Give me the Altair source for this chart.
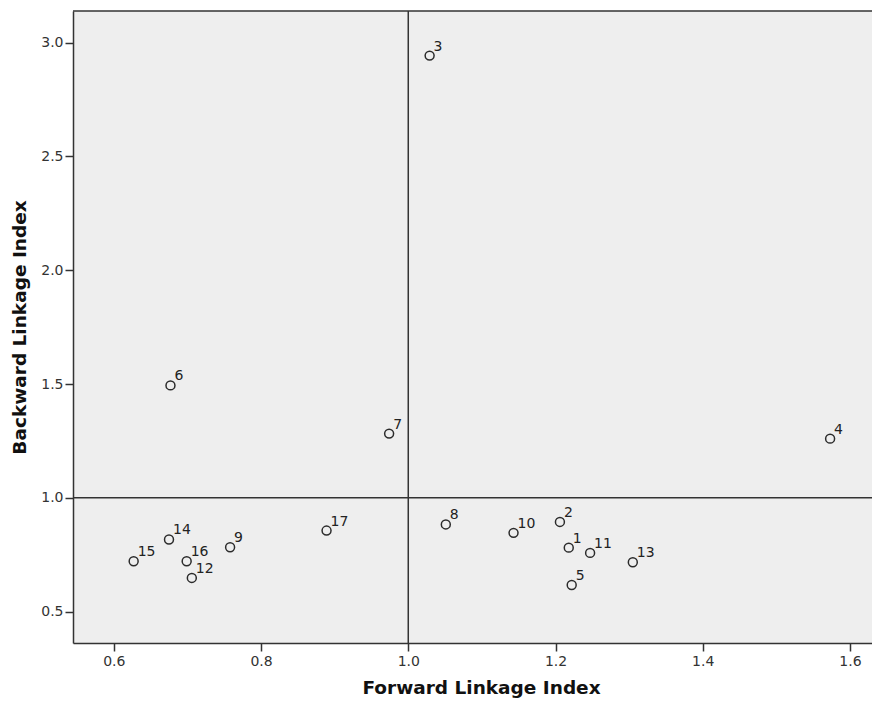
import altair as alt
import pandas as pd

# Sector numbers, forward linkage index (x), backward linkage index (y)
sector_ids = list(range(1, 18))
forward_index = [1.218, 1.206, 1.029, 1.573, 1.222, 0.677, 0.974, 1.051, 0.758,
                 1.143, 1.247, 0.706, 1.305, 0.675, 0.627, 0.699, 0.889]
backward_index = [0.781, 0.894, 2.943, 1.260, 0.617, 1.494, 1.282, 0.883, 0.783,
                  0.846, 0.758, 0.648, 0.717, 0.817, 0.721, 0.721, 0.856]

x_ticks = [0.6, 0.8, 1.0, 1.2, 1.4, 1.6]
y_ticks = [0.5, 1.0, 1.5, 2.0, 2.5, 3.0]
ref_x = [1.0]
ref_y = [1.0]

df = pd.DataFrame({"id": sector_ids, "fli": forward_index, "bli": backward_index})
df["label"] = df["id"].astype(str)
refx_df = pd.DataFrame({"fli": ref_x})
refy_df = pd.DataFrame({"bli": ref_y})

W, H = 799, 632
xscale = alt.Scale(domain=[0.5446, 1.6299], nice=False, zero=False)
yscale = alt.Scale(domain=[0.362, 3.139], nice=False, zero=False)

FONT = "DejaVu Sans"
DARK = "#333333"

x_axis = alt.Axis(values=x_ticks, format=".1f", title="Forward Linkage Index",
                  grid=False, domain=True, domainColor=DARK, domainWidth=1.5,
                  tickColor=DARK, tickWidth=1.5, tickSize=8, labelPadding=3,
                  labelFont=FONT, labelFontSize=14, labelColor=DARK,
                  titleFont=FONT, titleFontSize=18.5, titleFontWeight="bold",
                  titleColor="#111111", titleX=408, titleY=50,
                  titleAnchor="middle", titleBaseline="alphabetic")
y_axis = alt.Axis(values=y_ticks, format=".1f", title="Backward Linkage Index",
                  grid=False, domain=True, domainColor=DARK, domainWidth=1.5,
                  tickColor=DARK, tickWidth=1.5, tickSize=8, labelPadding=2,
                  labelFont=FONT, labelFontSize=14, labelColor=DARK,
                  titleFont=FONT, titleFontSize=18.5, titleFontWeight="bold",
                  titleColor="#111111", titleAngle=-90, titleX=-54, titleY=316,
                  titleAlign="center", titleBaseline="middle")

points = alt.Chart(df).mark_point(
    shape="circle", filled=False, size=80, stroke="#2b2b2b", strokeWidth=1.5, opacity=1
).encode(
    x=alt.X("fli:Q", scale=xscale, axis=x_axis),
    y=alt.Y("bli:Q", scale=yscale, axis=y_axis),
)

labels = alt.Chart(df).mark_text(
    align="left", baseline="alphabetic", dx=4, dy=-5,
    font=FONT, fontSize=14, color="#222222"
).encode(
    x=alt.X("fli:Q", scale=xscale, axis=x_axis),
    y=alt.Y("bli:Q", scale=yscale, axis=y_axis),
    text="label:N",
)

vline = alt.Chart(refx_df).mark_rule(color=DARK, strokeWidth=1.5).encode(
    x=alt.X("fli:Q", scale=xscale, axis=x_axis)
)
hline = alt.Chart(refy_df).mark_rule(color=DARK, strokeWidth=1.5).encode(
    y=alt.Y("bli:Q", scale=yscale, axis=y_axis)
)
top_border = alt.Chart(refx_df).mark_rule(color=DARK, strokeWidth=1.5).encode(
    y=alt.value(0), x=alt.value(0), x2=alt.value(W)
)

chart = alt.layer(points, labels, vline, hline, top_border).properties(
    width=W, height=H,
    autosize=alt.AutoSizeParams(type="none"),
    padding={"left": 65, "top": 3, "right": 0, "bottom": 55},
    background="white",
).configure_view(stroke=None, fill="#EEEEEE")

chart.save("out.html", embed_options={"renderer": "svg", "actions": False})
